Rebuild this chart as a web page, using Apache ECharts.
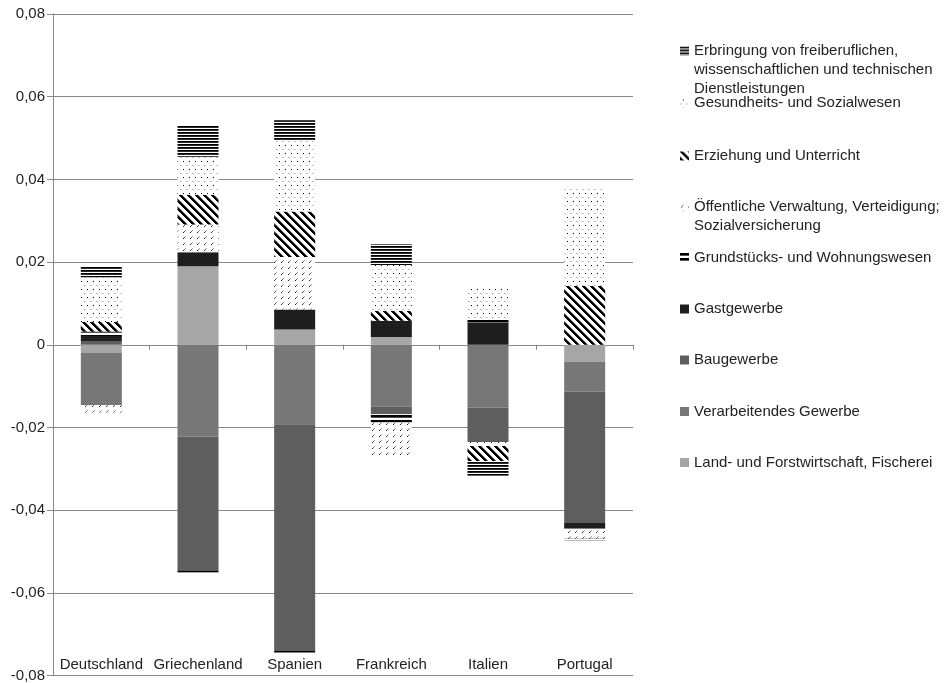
<!DOCTYPE html>
<html>
<head>
<meta charset="utf-8">
<script src="https://cdn.jsdelivr.net/npm/echarts@6/dist/echarts.min.js"></script>
<style>
  html, body { margin: 0; padding: 0; background: #fff; }
  #chart { width: 949px; height: 683px; }
</style>
</head>
<body>
<div id="chart"></div>
<script>
// Beiträge der Wirtschaftsbereiche (Anteile), gestapelt je Land
const categories = ['Deutschland', 'Griechenland', 'Spanien', 'Frankreich', 'Italien', 'Portugal'];

const landForst      = [-0.0019,  0.0190,  0.0037,  0.0019,  0.0000, -0.0041];
const verarbeitend   = [-0.0127, -0.0222, -0.0192, -0.0150, -0.0152, -0.0072];
const bau            = [ 0.0009, -0.0324, -0.0549, -0.0018, -0.0083, -0.0318];
const gast           = [ 0.0012,  0.0034,  0.0048,  0.0039,  0.0054, -0.0014];
const grundstuecke   = [ 0.0011, -0.0005, -0.0004, -0.0020,  0.0006,  0.0000];
const oeffentlich    = [-0.0018,  0.0067,  0.0127, -0.0084, -0.0010, -0.0024];
const erziehung      = [ 0.0023,  0.0072,  0.0110,  0.0024, -0.0036,  0.0142];
const gesundheit     = [ 0.0108,  0.0092,  0.0173,  0.0111,  0.0076,  0.0241];
const freiberuflich  = [ 0.0027,  0.0076,  0.0048,  0.0050, -0.0036, -0.0004];

const yTicks = [-0.08, -0.06, -0.04, -0.02, 0, 0.02, 0.04, 0.06, 0.08];

const FONT = "'Liberation Sans', Arial, sans-serif";
const TEXT_COLOR = '#222';

// Small repeating canvas tiles used as fill patterns
function tile(w, h, paint) {
  const c = document.createElement('canvas');
  c.width = w; c.height = h;
  const ctx = c.getContext('2d');
  ctx.fillStyle = '#fff';
  ctx.fillRect(0, 0, w, h);
  paint(ctx);
  return { image: c, repeat: 'repeat' };
}
function px(ctx, x, y, color) { ctx.fillStyle = color; ctx.fillRect(x, y, 1, 1); }

const patHLinesDense = tile(4, 3, ctx => {
  ctx.fillStyle = '#000'; ctx.fillRect(0, 0, 4, 1);
  ctx.fillStyle = '#2a2a2a'; ctx.fillRect(0, 1, 4, 1);
});
const patDots = tile(6, 8, ctx => {
  px(ctx, 3, 1, '#000');
  px(ctx, 0, 5, '#b0b0b0');
  px(ctx, 1, 5, '#d0d0d0');
});
const patDiag = tile(8, 8, ctx => {
  for (let y = 0; y < 8; y++) {
    for (let x = 0; x < 8; x++) {
      const d = ((x - y) % 8 + 8) % 8;
      if (d < 3) px(ctx, x, y, '#000');
      else if (d === 3) px(ctx, x, y, '#777');
    }
  }
});
const patDash = tile(7, 6, ctx => {
  px(ctx, 1, 4, '#222');
  px(ctx, 2, 3, '#666');
  px(ctx, 3, 2, '#aaa');
});
const patDoubleLine = tile(4, 5, ctx => {
  ctx.fillStyle = '#000'; ctx.fillRect(0, 0, 4, 2);
  ctx.fillStyle = '#555'; ctx.fillRect(0, 2, 4, 1);
});

const seriesDefs = [
  { name: 'Land- und Forstwirtschaft, Fischerei', data: landForst, color: '#a6a6a6' },
  { name: 'Verarbeitendes Gewerbe', data: verarbeitend, color: '#777777' },
  { name: 'Baugewerbe', data: bau, color: '#5e5e5e' },
  { name: 'Gastgewerbe', data: gast, color: '#1e1e1e' },
  { name: 'Grundstücks- und Wohnungswesen', data: grundstuecke, color: patDoubleLine },
  { name: 'Öffentliche Verwaltung, Verteidigung; Sozialversicherung', data: oeffentlich, color: patDash },
  { name: 'Erziehung und Unterricht', data: erziehung, color: patDiag },
  { name: 'Gesundheits- und Sozialwesen', data: gesundheit, color: patDots },
  { name: 'Erbringung von freiberuflichen, wissenschaftlichen und technischen Dienstleistungen', data: freiberuflich, color: patHLinesDense }
];

// Legend text as wrapped lines, listed top to bottom
const legendLines = [
  ['Erbringung von freiberuflichen,', 'wissenschaftlichen und technischen', 'Dienstleistungen'],
  ['Gesundheits- und Sozialwesen'],
  ['Erziehung und Unterricht'],
  ['Öffentliche Verwaltung, Verteidigung;', 'Sozialversicherung'],
  ['Grundstücks- und Wohnungswesen'],
  ['Gastgewerbe'],
  ['Baugewerbe'],
  ['Verarbeitendes Gewerbe'],
  ['Land- und Forstwirtschaft, Fischerei']
];
const legendCenters = [51, 103, 156, 207, 257.5, 309, 360, 411.5, 462.5];
const LINE_H = 19;

const legendNames = seriesDefs.map(s => s.name).reverse();
const legends = legendNames.map((name, i) => {
  const lines = legendLines[i];
  // pad with blank lines above so the icon sits next to the first line
  const padded = Array(lines.length - 1).fill('').concat(lines);
  const blockH = padded.length * LINE_H;
  return {
    data: [{ name: name, icon: 'rect' }],
    left: 680,
    top: legendCenters[i] - blockH / 2,
    padding: 0,
    itemWidth: 9,
    itemHeight: 9,
    selectedMode: false,
    formatter: () => padded.join('\n'),
    textStyle: { fontFamily: FONT, fontSize: 15, color: TEXT_COLOR, lineHeight: LINE_H }
  };
});

const option = {
  animation: false,
  backgroundColor: '#fff',
  grid: { left: 53, right: 316, top: 14, bottom: 6 },
  legend: legends,
  xAxis: [
    {
      type: 'category',
      data: categories,
      axisLine: { onZero: true, lineStyle: { color: '#888', width: 1 } },
      axisTick: { show: true, length: 5, lineStyle: { color: '#888' } },
      axisLabel: { show: false },
      splitLine: { show: false }
    },
    {
      type: 'category',
      data: categories,
      position: 'bottom',
      axisLine: { show: false, onZero: false },
      axisTick: { show: false },
      axisLabel: { inside: true, interval: 0, margin: 3, fontFamily: FONT, fontSize: 15, color: TEXT_COLOR },
      splitLine: { show: false }
    }
  ],
  yAxis: {
    type: 'value',
    min: yTicks[0],
    max: yTicks[yTicks.length - 1],
    interval: 0.02,
    axisLine: { show: true, lineStyle: { color: '#888' } },
    axisTick: { show: true, length: 6, lineStyle: { color: '#888' } },
    axisLabel: {
      margin: 8,
      fontFamily: FONT, fontSize: 15, color: TEXT_COLOR,
      formatter: v => {
        const r = Math.round(v * 100) / 100;
        return r === 0 ? '0' : r.toFixed(2).replace('.', ',');
      }
    },
    splitLine: { show: true, lineStyle: { color: '#888', width: 1 } }
  },
  series: seriesDefs.map(s => ({
    name: s.name,
    type: 'bar',
    stack: 'gesamt',
    xAxisIndex: 0,
    barWidth: 41,
    data: s.data,
    itemStyle: { color: s.color, borderWidth: 0 },
    emphasis: { disabled: true }
  }))
};

const chart = echarts.init(document.getElementById('chart'), null, { renderer: 'canvas' });
chart.setOption(option);
</script>
</body>
</html>
